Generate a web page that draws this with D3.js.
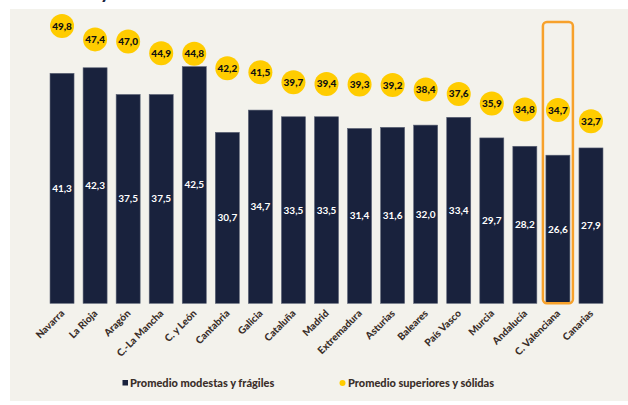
<!DOCTYPE html>
<html>
<head>
<meta charset="utf-8">
<script src="https://cdn.jsdelivr.net/npm/d3@7"></script>
</head>
<body style="margin:0; background:#fff;">
<svg id="chart" width="628" height="405"></svg>
<script>
    'use strict';

    var regions = ["Navarra", "La Rioja", "Aragón", "C.-La Mancha", "C. y León", "Cantabria", "Galicia",
        "Cataluña", "Madrid", "Extremadura", "Asturias", "Baleares", "País Vasco", "Murcia",
        "Andalucía", "C. Valenciana", "Canarias"];
    var modestas = [41.3, 42.3, 37.5, 37.5, 42.5, 30.7, 34.7, 33.5, 33.5, 31.4, 31.6, 32.0, 33.4, 29.7, 28.2, 26.6, 27.9];
    var superiores = [49.8, 47.4, 47.0, 44.9, 44.8, 42.2, 41.5, 39.7, 39.4, 39.3, 39.2, 38.4, 37.6, 35.9, 34.8, 34.7, 32.7];
    var seriesNames = ["Promedio modestas y frágiles", "Promedio superiores y sólidas"];
    var highlight = "C. Valenciana";

    var navy = "#19223d";
    var yellow = "#ffcc00";
    var orange = "#f7a12b";
    var textColor = "#3a2e29";
    var font = "Lato, 'Open Sans', sans-serif";

    var svg = d3.select("#chart");

    // beige panel
    svg.append("rect").attr("x", 10).attr("y", 9).attr("width", 618).attr("height", 392).attr("fill", "#f3f2ec");

    // title remnant, cut off at the top like in the source
    svg.append("text").attr("x", 100).attr("y", -2).attr("font-family", font).attr("font-weight", 700)
        .attr("font-size", 20).attr("fill", navy).text("y");

    var x = d3.scaleBand().domain(regions).range([45.5, 607.5]).paddingInner(0.274).paddingOuter(0.137);
    var y = d3.scaleLinear().domain([0, 50]).range([303.3, 24.9]);

    var fmt = function(v) { return v.toFixed(1).replace(".", ","); };

    var data = regions.map(function(r, i) { return {name: r, a: modestas[i], b: superiores[i]}; });

    svg.selectAll("rect.bar").data(data).enter().append("rect")
        .attr("class", "bar")
        .attr("x", function(d) { return x(d.name); })
        .attr("y", function(d) { return y(d.a); })
        .attr("width", x.bandwidth())
        .attr("height", function(d) { return y(0) - y(d.a); })
        .attr("fill", navy)
        .attr("stroke", "#5b6275")
        .attr("stroke-width", 0.6);

    svg.selectAll("text.barlab").data(data).enter().append("text")
        .attr("class", "barlab")
        .attr("x", function(d) { return x(d.name) + x.bandwidth() / 2; })
        .attr("y", function(d) { return (y(d.a) + y(0)) / 2 + 3.5; })
        .attr("text-anchor", "middle")
        .attr("font-family", font).attr("font-weight", 700).attr("font-size", 10)
        .attr("fill", "#fff")
        .text(function(d) { return fmt(d.a); });

    // highlight box
    var hx = x(highlight) + x.bandwidth() / 2;
    svg.append("rect")
        .attr("x", hx - 15).attr("y", 22).attr("width", 30).attr("height", y(0) - 22)
        .attr("rx", 4).attr("fill", "none").attr("stroke", orange).attr("stroke-width", 2.5);

    var dots = svg.selectAll("g.dot").data(data).enter().append("g")
        .attr("class", "dot")
        .attr("transform", function(d) { return "translate(" + (x(d.name) + x.bandwidth() / 2) + "," + y(d.b) + ")"; });
    dots.append("circle").attr("r", 12).attr("fill", yellow);
    dots.append("text").attr("y", 3.5).attr("text-anchor", "middle")
        .attr("font-family", font).attr("font-weight", 900).attr("font-size", 10)
        .attr("fill", "#111").text(function(d) { return fmt(d.b); });

    // x labels
    svg.selectAll("text.xlab").data(regions).enter().append("text")
        .attr("class", "xlab")
        .attr("transform", function(d) { return "translate(" + (x(d) + x.bandwidth() / 2 + 3) + ",314) rotate(-45)"; })
        .attr("text-anchor", "end")
        .attr("font-family", font).attr("font-weight", 900).attr("font-size", 10)
        .attr("fill", textColor)
        .text(function(d) { return d; });

    // legend
    var legend = svg.append("g").attr("font-family", font).attr("font-weight", 900).attr("font-size", 11).attr("fill", textColor);
    legend.append("rect").attr("x", 122.5).attr("y", 380).attr("width", 5.5).attr("height", 5.5).attr("fill", navy);
    legend.append("text").attr("x", 130).attr("y", 387).text(seriesNames[0]);
    legend.append("circle").attr("cx", 342.5).attr("cy", 383).attr("r", 3).attr("fill", yellow);
    legend.append("text").attr("x", 348).attr("y", 387).text(seriesNames[1]);
</script>
</body>
</html>
